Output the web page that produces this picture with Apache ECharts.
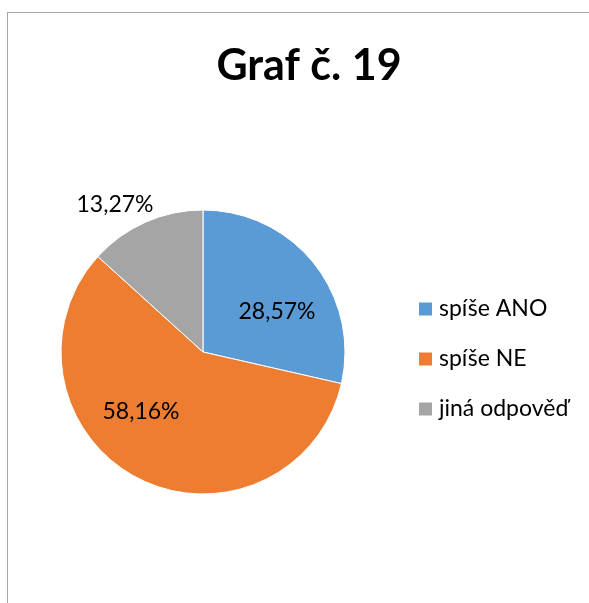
<!DOCTYPE html>
<html>
<head>
<meta charset="utf-8">
<script src="https://cdn.jsdelivr.net/npm/echarts@6/dist/echarts.min.js"></script>
<style>
  html, body { margin: 0; padding: 0; background: #fff; }
  #frame { position: absolute; left: 7px; top: 12px; width: 700px; height: 700px; border: 1px solid #a6a6a6; }
  #main { position: absolute; left: 0; top: 0; width: 589px; height: 603px; }
</style>
</head>
<body>
<div id="frame"></div>
<div id="main"></div>
<script>
// data
const categories = ['spíše ANO', 'spíše NE', 'jiná odpověď'];
const values = [28.57, 58.16, 13.27];
const labels = ['28,57%', '58,16%', '13,27%'];
const colors = ['#5b9bd5', '#ed7d31', '#a5a5a5'];
// where the labels sit (Excel "best fit")
const labelPos = [[277, 312], [141, 412], [115, 205]];

const font = 'Lato, "Noto Sans", sans-serif';

let chart = echarts.init(document.getElementById('main'));
chart.setOption({
  backgroundColor: 'transparent',
  animation: false,
  title: {
    text: 'Graf č. 19',
    left: 304,
    top: 40,
    textAlign: 'center',
    textStyle: { fontFamily: font, fontWeight: 'bold', fontSize: 43, color: '#000' }
  },
  legend: {
    orient: 'vertical',
    left: 412,
    top: 292,
    itemWidth: 15,
    itemHeight: 15,
    itemGap: 26,
    icon: 'rect',
    data: categories,
    textStyle: { fontFamily: font, fontSize: 23, color: '#000', lineHeight: 24, padding: [0, 0, 0, 1] }
  },
  series: [{
    type: 'pie',
    center: [203, 352],
    radius: 142,
    startAngle: 90,
    clockwise: true,
    label: {
      show: true,
      position: 'inside',
      formatter: p => labels[p.dataIndex],
      fontFamily: font,
      fontSize: 23,
      color: '#000'
    },
    labelLayout: p => ({ x: labelPos[p.dataIndex][0], y: labelPos[p.dataIndex][1], align: 'center', verticalAlign: 'middle' }),
    labelLine: { show: false },
    itemStyle: { borderColor: '#fff', borderWidth: 1 },
    emphasis: { disabled: true },
    data: categories.map((c, i) => ({ name: c, value: values[i], itemStyle: { color: colors[i] } }))
  }]
});
</script>
</body>
</html>
